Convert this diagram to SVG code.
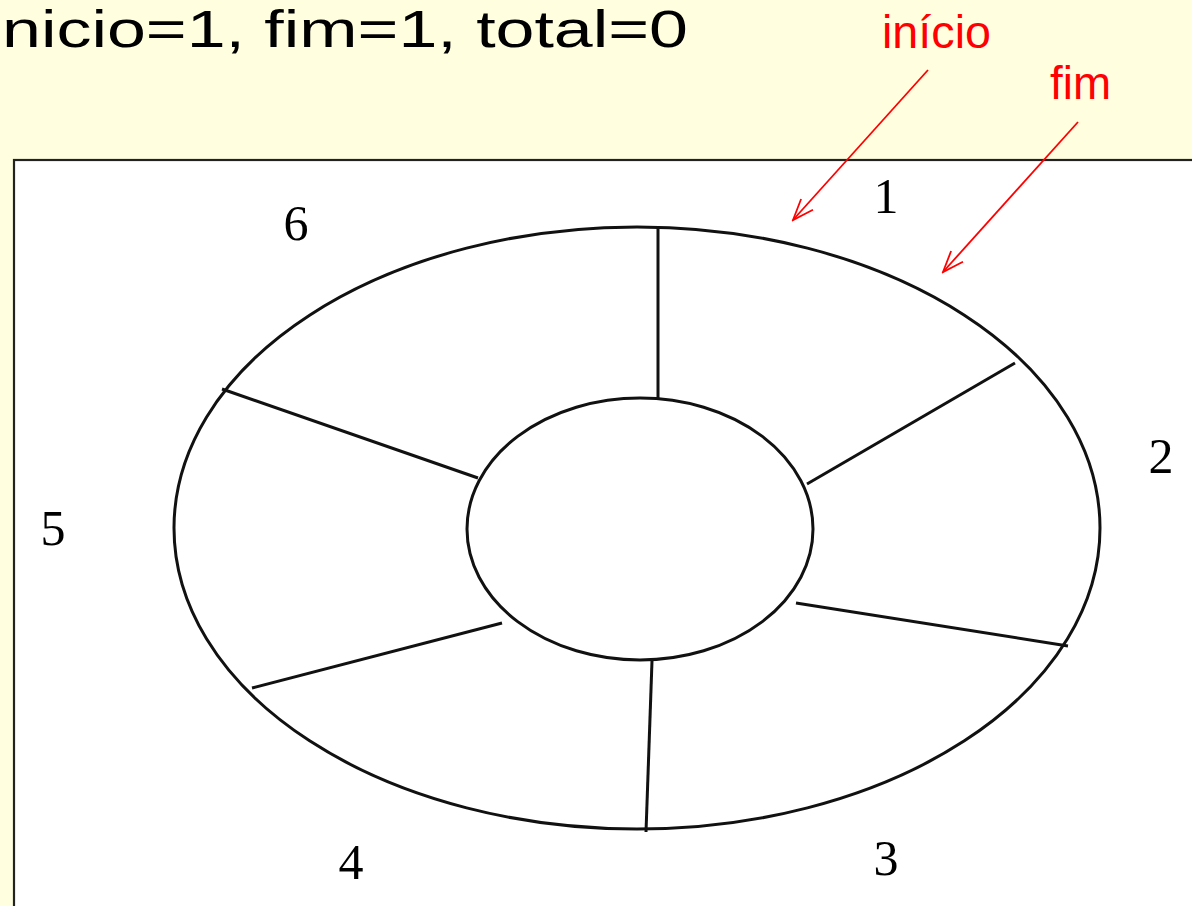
<svg xmlns="http://www.w3.org/2000/svg" width="1192" height="906" viewBox="0 0 1192 906">
<style>
.ring{fill:none;stroke:#111;stroke-width:3}
.spoke{stroke:#111;stroke-width:3;fill:none}
.num{font-family:"Liberation Serif","Times New Roman",serif;font-size:50px;fill:#000;text-anchor:middle}
.red{font-family:"Liberation Sans",Arial,sans-serif;fill:#FF0000}
.arrow{stroke:#FF0000;stroke-width:1.8;fill:none}
</style>
<defs>
<marker id="vhead" viewBox="0 0 24 20" refX="22" refY="10" markerWidth="24" markerHeight="20" markerUnits="userSpaceOnUse" orient="auto">
<path d="M1,2 L22,10 L1,18" fill="none" stroke="#FF0000" stroke-width="1.8"/>
</marker>
</defs>
<rect x="0" y="0" width="1192" height="906" fill="#FFFFE0"/>
<text x="2" y="47" font-family="Liberation Sans, Arial, sans-serif" font-size="52" fill="#000" textLength="686" lengthAdjust="spacingAndGlyphs">nicio=1, fim=1, total=0</text>
<rect x="14" y="160" width="1190" height="760" fill="#FFFFFF" stroke="#222" stroke-width="2.2"/>
<g id="outer-ring"><ellipse class="ring" cx="637" cy="528" rx="463" ry="301"/></g>
<g id="inner-ring"><ellipse class="ring" cx="640" cy="529" rx="173" ry="131"/></g>
<g id="spokes">
<line class="spoke" x1="658" y1="228" x2="658" y2="398"/>
<line class="spoke" x1="1015" y1="363" x2="807" y2="484"/>
<line class="spoke" x1="1068" y1="646" x2="796" y2="603"/>
<line class="spoke" x1="652" y1="661" x2="646" y2="832"/>
<line class="spoke" x1="252" y1="688" x2="502" y2="623"/>
<line class="spoke" x1="222" y1="389" x2="478" y2="478"/>
</g>
<g id="labels">
<text class="num" x="886" y="213">1</text>
<text class="num" x="1161" y="473">2</text>
<text class="num" x="886" y="875">3</text>
<text class="num" x="351" y="879">4</text>
<text class="num" x="53" y="545">5</text>
<text class="num" x="296" y="240">6</text>
</g>
<g id="pointer-inicio">
<text class="red" x="882" y="48" font-size="46" textLength="109" lengthAdjust="spacingAndGlyphs">início</text>
</g>
<g id="pointer-fim">
<text class="red" x="1050" y="99" font-size="46" textLength="61" lengthAdjust="spacingAndGlyphs">fim</text>
</g>
<g id="connectors">
<line class="arrow" x1="928" y1="70" x2="793" y2="220" marker-end="url(#vhead)"/>
<line class="arrow" x1="1078" y1="122" x2="943" y2="272" marker-end="url(#vhead)"/>
</g>
</svg>
